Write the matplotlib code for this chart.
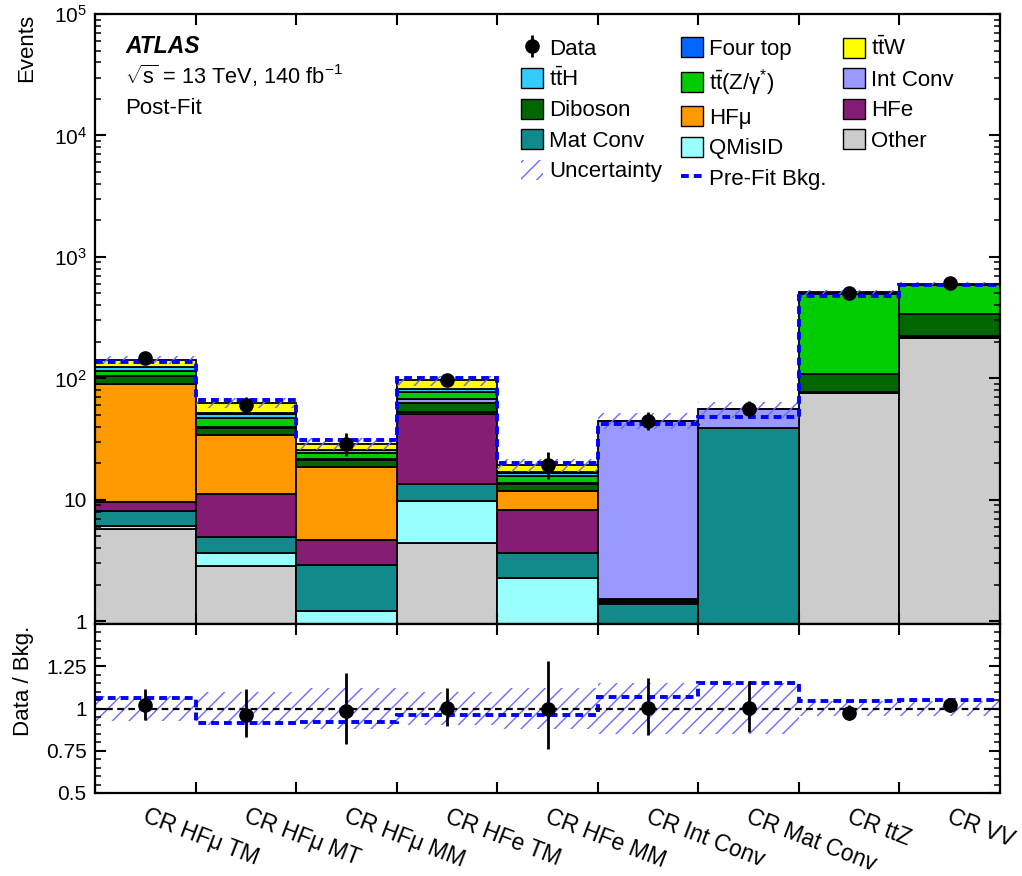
import numpy as np
import matplotlib
matplotlib.use("Agg")
import matplotlib.pyplot as plt
import matplotlib.transforms as mtransforms
from matplotlib.patches import Patch
from matplotlib.lines import Line2D
from matplotlib.ticker import FixedLocator, FixedFormatter, LogLocator, MultipleLocator, NullFormatter

plt.rcParams['font.family'] = ['Liberation Sans', 'DejaVu Sans']
plt.rcParams['mathtext.fontset'] = 'custom'
plt.rcParams['mathtext.rm'] = 'Liberation Sans'
plt.rcParams['mathtext.it'] = 'Liberation Sans:italic'
plt.rcParams['mathtext.bf'] = 'Liberation Sans:bold'
plt.rcParams['hatch.linewidth'] = 1.0

# regions (bins)
regions = ["CR HFμ TM", "CR HFμ MT", "CR HFμ MM", "CR HFe TM", "CR HFe MM",
           "CR Int Conv", "CR Mat Conv", "CR ttZ", "CR VV"]

# post-fit yields, stacked bottom -> top
other   = [5.8, 2.85, 0.6, 4.4, 0.5, 0.05, 0.05, 76.0, 217.0]
qmisid  = [0.25, 0.8, 0.62, 5.4, 1.77, 0.02, 0.05, 0.2, 1.5]
matconv = [2.0, 1.25, 1.68, 3.6, 1.41, 1.33, 38.7, 0.5, 3.0]
hfe     = [1.6, 6.3, 1.75, 37.8, 4.58, 0.05, 0.05, 0.2, 2.0]
hfmu    = [81.0, 22.8, 13.9, 1.9, 3.64, 0.02, 0.02, 0.1, 1.5]
diboson = [13.0, 5.0, 2.7, 9.5, 1.5, 0.05, 0.05, 31.0, 111.0]
intconv = [1.5, 1.0, 0.3, 4.6, 0.4, 43.0, 16.6, 0.3, 0.5]
ttz     = [10.0, 7.2, 2.6, 9.9, 1.9, 0.05, 0.05, 390.0, 249.0]
tth     = [8.0, 4.0, 1.4, 4.1, 1.0, 0.02, 0.02, 5.0, 3.0]
fourtop = [0.5, 0.3, 0.1, 0.5, 0.1, 0.0, 0.0, 2.0, 0.5]
ttw     = [19.0, 11.5, 3.4, 14.6, 2.6, 0.1, 0.1, 7.0, 8.0]

data        = [146.0, 60.6, 28.6, 96.7, 19.3, 44.8, 55.9, 500.0, 611.0]
data_err_up = [13.3, 9.5, 6.6, 11.5, 5.5, 8.0, 8.7, 22.4, 24.7]
data_err_dn = [13.0, 8.1, 5.6, 10.3, 4.5, 7.0, 7.9, 22.4, 24.7]
prefit      = [137.6, 66.4, 31.1, 100.4, 20.1, 42.0, 48.5, 480.0, 583.0]
rel_unc     = [0.075, 0.10, 0.12, 0.095, 0.12, 0.15, 0.15, 0.045, 0.045]

stack = [other, qmisid, matconv, hfe, hfmu, diboson, intconv, ttz, tth, fourtop, ttw]
colors = ['#cccccc', '#99ffff', '#108a8a', '#861d74', '#ff9900', '#006600',
          '#9999ff', '#00cc00', '#33ccff', '#0066ff', '#ffff00']
names = ['Other', 'QMisID', 'Mat Conv', 'HFe', 'HFμ', 'Diboson', 'Int Conv',
         r't$\bar{\mathrm{t}}$(Z/γ$^{*}$)', r't$\bar{\mathrm{t}}$H', 'Four top', r't$\bar{\mathrm{t}}$W']

hatch_col = '#6a6aff'
edges = np.arange(10)
centers = np.arange(9) + 0.5

fig = plt.figure(figsize=(10.22, 8.76), dpi=100)
ax = fig.add_axes([95/1022, 1-624/876, 905/1022, 610/876])
rax = fig.add_axes([95/1022, 1-793/876, 905/1022, 169/876])

# stacked histogram
base = np.full(9, 1e-3)
for vals, col in zip(stack, colors):
    vals = np.array(vals)
    ax.bar(centers, vals, width=1.0, bottom=base, color=col, edgecolor='black', linewidth=1.3)
    base = base + vals
total = base - 1e-3

unc = np.array(rel_unc)
ax.bar(centers, 2*unc*total, width=1.0, bottom=total*(1-unc), fill=False,
       hatch='//', edgecolor=hatch_col, linewidth=0)
ax.stairs(prefit, edges, baseline=None, color='#0000ff', lw=2.8, ls=(0, (2, 1.3)))
dat = ax.errorbar(centers, data, yerr=[data_err_dn, data_err_up], fmt='o', color='black',
                  ms=9.5, elinewidth=2, capsize=0)

ax.set_yscale('log')
ax.set_ylim(0.95, 1e5)
ax.set_xlim(0, 9)
ax.yaxis.set_major_locator(FixedLocator([1, 10, 100, 1e3, 1e4, 1e5]))
ax.yaxis.set_major_formatter(FixedFormatter(['1', '10', r'10$^{2}$', r'10$^{3}$', r'10$^{4}$', r'10$^{5}$']))
ax.yaxis.set_minor_locator(LogLocator(base=10, subs=np.arange(2, 10)))
ax.yaxis.set_minor_formatter(NullFormatter())
ax.set_xticks(edges)
ax.set_xticklabels([])

# ratio panel
data_a = np.array(data)
rax.bar(centers, 2*unc, width=1.0, bottom=1-unc, fill=False, hatch='//', edgecolor=hatch_col, linewidth=0)
rax.stairs(data_a/np.array(prefit), edges, baseline=None, color='#0000ff', lw=2.8, ls=(0, (2, 1.3)))
rax.axhline(1.0, color='black', lw=1.6, ls=(0, (3, 2)))
rax.errorbar(centers, data_a/total, yerr=[np.array(data_err_dn)/total, np.array(data_err_up)/total],
             fmt='o', color='black', ms=9.5, elinewidth=2, capsize=0)
rax.set_xlim(0, 9)
rax.set_ylim(0.5, 1.5)
rax.set_yticks([0.5, 0.75, 1.0, 1.25, 1.5])
rax.set_yticklabels(['0.5', '0.75', '1', '1.25', ''])
rax.yaxis.set_minor_locator(MultipleLocator(0.05))
rax.set_xticks(edges)
rax.set_xticklabels([])

for a in (ax, rax):
    for sp in a.spines.values():
        sp.set_linewidth(1.6)
    a.tick_params(which='both', direction='in', top=True, right=True, labelsize=15)
    a.tick_params(which='major', length=8, width=1.5, pad=6)
    a.tick_params(which='minor', length=4, width=1.1)

trans = mtransforms.blended_transform_factory(rax.transData, rax.transAxes)
for c, lab in zip(centers, regions):
    rax.text(c + 0.03, -0.07, lab, transform=trans, rotation=-21, ha='left', va='top',
             rotation_mode='anchor', fontsize=16.5)

fig.text(27/1022, 1-14/876, 'Events', rotation=90, ha='center', va='top', fontsize=16)
fig.text(24/1022, 1-681/876, 'Data / Bkg.', rotation=90, ha='center', va='center', fontsize=16)

fig.text(125/1022, 1-53/876, 'ATLAS', fontsize=16.5, fontweight='bold', style='italic', va='baseline')
fig.text(125/1022, 1-84/876, r'$\sqrt{\mathrm{s}}$ = 13 TeV, 140 fb$^{\mathrm{-1}}$', fontsize=15.7, va='baseline')
fig.text(125/1022, 1-114/876, 'Post-Fit', fontsize=16, va='baseline')

# legend, three columns placed individually
def box(i):
    return Patch(facecolor=colors[i], edgecolor='black', linewidth=1.0)

unc_h = Patch(facecolor='none', edgecolor=hatch_col, hatch='//', linewidth=0)
pre_h = Line2D([], [], color='#0000ff', lw=2.8, ls=(0, (2, 1.3)))
cols = [
    ([dat, box(8), box(5), box(2), unc_h], ['Data', names[8], 'Diboson', 'Mat Conv', 'Uncertainty'], 521),
    ([box(9), box(7), box(4), box(1), pre_h], ['Four top', names[7], 'HFμ', 'QMisID', 'Pre-Fit Bkg.'], 681),
    ([box(10), box(6), box(3), box(0)], [names[10], 'Int Conv', 'HFe', 'Other'], 843),
]
for hs, ls, xpix in cols:
    leg = fig.legend(hs, ls, loc='upper left', bbox_to_anchor=(xpix/1022, 1-37/876),
                     bbox_transform=fig.transFigure, frameon=False, fontsize=16,
                     handlelength=1.0, handleheight=1.0, handletextpad=0.28,
                     labelspacing=0.36, borderpad=0, borderaxespad=0)

fig.savefig('out.png', dpi=100)
